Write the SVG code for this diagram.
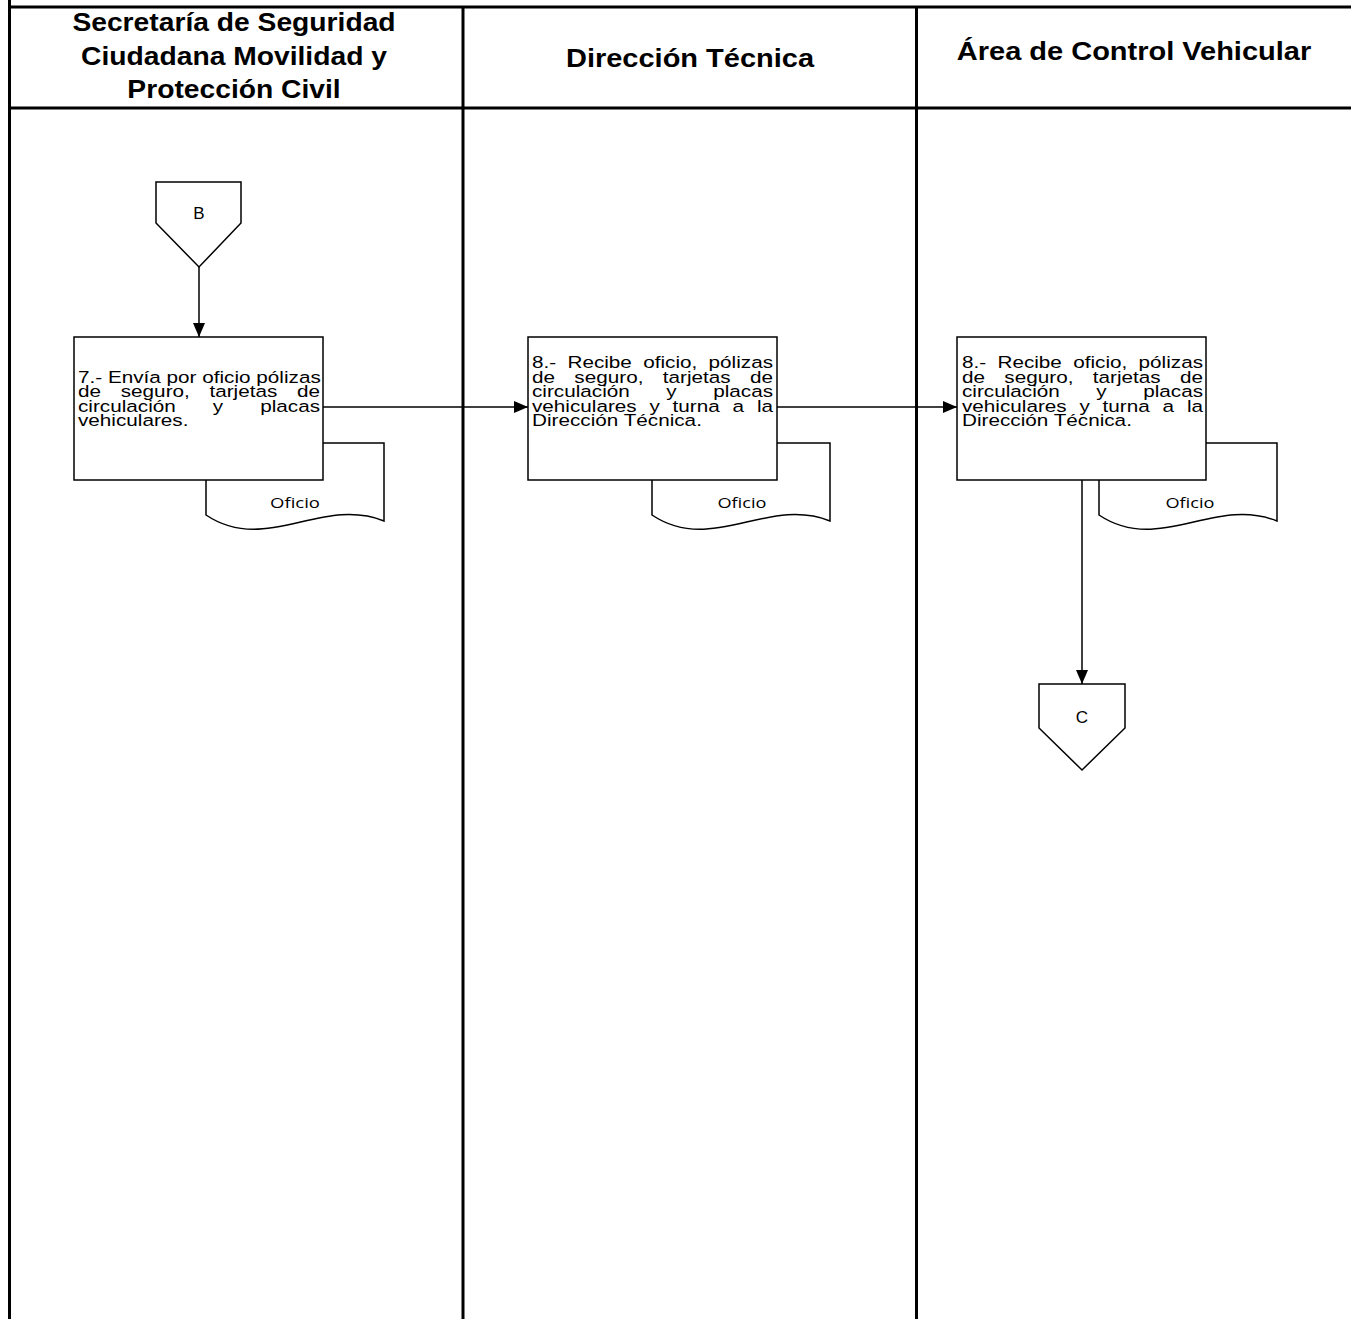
<svg xmlns="http://www.w3.org/2000/svg" width="1351" height="1319" viewBox="0 0 1351 1319">
<style>
.frame{stroke:#000;stroke-width:3;fill:none}
.shape{stroke:#000;stroke-width:1.5;fill:#fff}
.conn{stroke:#000;stroke-width:1.5;fill:none}
.hdr{font-family:"Liberation Sans",Arial,sans-serif;font-weight:bold;font-size:25px;fill:#000;text-anchor:middle}
.body{font-family:"Liberation Sans",Arial,sans-serif;font-size:17px;fill:#000}
.lbl{font-family:"Liberation Sans",Arial,sans-serif;font-size:17px;fill:#000;text-anchor:middle}
.doc{font-family:"Open Sans","Liberation Sans",sans-serif;font-size:15px;fill:#000}
.end{text-anchor:end}
</style>
<defs>
<marker id="arrow" markerUnits="userSpaceOnUse" markerWidth="14" markerHeight="12" refX="14" refY="6" orient="auto">
<path d="M0,0 L14,6 L0,12 Z" fill="#000"/>
</marker>
</defs>
<rect width="1351" height="1319" fill="#fff"/>
<g id="frame">
<line class="frame" x1="9.5" y1="0" x2="9.5" y2="1319"/>
<line class="frame" x1="8" y1="7" x2="1351" y2="7"/>
<line class="frame" x1="8" y1="108" x2="1351" y2="108"/>
<line class="frame" x1="463" y1="7" x2="463" y2="1319"/>
<line class="frame" x1="916.5" y1="7" x2="916.5" y2="1319"/>
</g>
<g id="headers">
<text class="hdr" transform="translate(234,0) scale(1.13,1)"><tspan x="0" y="31">Secretaría de Seguridad</tspan><tspan x="0" y="65">Ciudadana Movilidad y</tspan><tspan x="0" y="98">Protección Civil</tspan></text>
<text class="hdr" transform="translate(690,67) scale(1.16,1)">Dirección Técnica</text>
<text class="hdr" transform="translate(1134,60) scale(1.16,1)">Área de Control Vehicular</text>
</g>
<g id="connectors">
<line class="conn" x1="199" y1="267" x2="199" y2="337" marker-end="url(#arrow)"/>
<line class="conn" x1="323" y1="407" x2="528" y2="407" marker-end="url(#arrow)"/>
<line class="conn" x1="777" y1="407" x2="957" y2="407" marker-end="url(#arrow)"/>
<line class="conn" x1="1082" y1="480" x2="1082" y2="684" marker-end="url(#arrow)"/>
</g>
<g id="connB">
<path class="shape" d="M156,182 H241 V223 L199,267 L156,223 Z"/>
<text class="lbl" x="199" y="219">B</text>
</g>
<g id="doc1">
<path class="shape" d="M206,443 H384 V521 C321,496 266,555 206,515 Z"/>
<text class="doc" x="295" y="508" text-anchor="middle" textLength="50" lengthAdjust="spacingAndGlyphs">Oficio</text>
</g>
<g id="step7">
<rect class="shape" x="74" y="337" width="249" height="143"/>
<text class="body" transform="translate(78,0) scale(1.218,1)"><tspan x="0" y="383">7.- Envía por oficio pólizas</tspan><tspan x="0" y="397.5">de</tspan><tspan x="35.1" y="397.5">seguro,</tspan><tspan x="107.9" y="397.5">tarjetas</tspan><tspan class="end" x="198.7" y="397.5">de</tspan><tspan x="0" y="412">circulación</tspan><tspan x="110.7" y="412">y</tspan><tspan class="end" x="198.7" y="412">placas</tspan><tspan x="0" y="426.5">vehiculares.</tspan></text>
</g>
<g id="doc2">
<path class="shape" d="M652,443 H830 V521 C767,496 712,555 652,515 Z"/>
<text class="doc" x="742" y="508" text-anchor="middle" textLength="49" lengthAdjust="spacingAndGlyphs">Oficio</text>
</g>
<g id="step8a">
<rect class="shape" x="528" y="337" width="249" height="143"/>
<text class="body" transform="translate(532,0) scale(1.218,1)"><tspan x="0" y="368.5">8.-</tspan><tspan x="29.1" y="368.5">Recibe</tspan><tspan x="91.3" y="368.5">oficio,</tspan><tspan class="end" x="197.9" y="368.5">pólizas</tspan><tspan x="0" y="383">de</tspan><tspan x="34.8" y="383">seguro,</tspan><tspan x="107.4" y="383">tarjetas</tspan><tspan class="end" x="197.9" y="383">de</tspan><tspan x="0" y="397.5">circulación</tspan><tspan x="110.3" y="397.5">y</tspan><tspan class="end" x="197.9" y="397.5">placas</tspan><tspan x="0" y="412">vehiculares</tspan><tspan x="96.5" y="412">y</tspan><tspan x="115.4" y="412">turna</tspan><tspan x="164.7" y="412">a</tspan><tspan class="end" x="197.9" y="412">la</tspan><tspan x="0" y="426.5">Dirección Técnica.</tspan></text>
</g>
<g id="doc3">
<path class="shape" d="M1099,443 H1277 V521 C1214,496 1159,555 1099,515 Z"/>
<text class="doc" x="1190" y="508" text-anchor="middle" textLength="49" lengthAdjust="spacingAndGlyphs">Oficio</text>
</g>
<g id="step8b">
<rect class="shape" x="957" y="337" width="249" height="143"/>
<text class="body" transform="translate(962,0) scale(1.218,1)"><tspan x="0" y="368.5">8.-</tspan><tspan x="29.1" y="368.5">Recibe</tspan><tspan x="91.3" y="368.5">oficio,</tspan><tspan class="end" x="197.9" y="368.5">pólizas</tspan><tspan x="0" y="383">de</tspan><tspan x="34.8" y="383">seguro,</tspan><tspan x="107.4" y="383">tarjetas</tspan><tspan class="end" x="197.9" y="383">de</tspan><tspan x="0" y="397.5">circulación</tspan><tspan x="110.3" y="397.5">y</tspan><tspan class="end" x="197.9" y="397.5">placas</tspan><tspan x="0" y="412">vehiculares</tspan><tspan x="96.5" y="412">y</tspan><tspan x="115.4" y="412">turna</tspan><tspan x="164.7" y="412">a</tspan><tspan class="end" x="197.9" y="412">la</tspan><tspan x="0" y="426.5">Dirección Técnica.</tspan></text>
</g>
<g id="connC">
<path class="shape" d="M1039,684 H1125 V728 L1082,770 L1039,728 Z"/>
<text class="lbl" x="1082" y="723">C</text>
</g>
</svg>
